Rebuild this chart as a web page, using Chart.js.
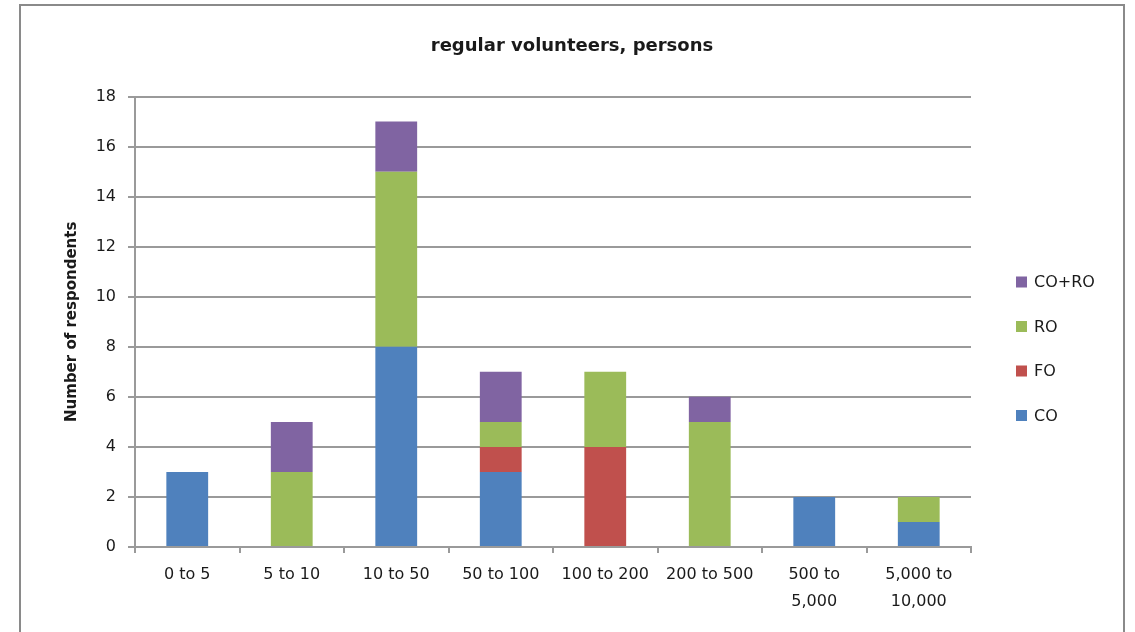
<!DOCTYPE html>
<html><head><meta charset="utf-8">
<script src="https://cdn.jsdelivr.net/npm/chart.js@4.4.1/dist/chart.umd.min.js"></script>
<style>html,body{margin:0;padding:0;background:#fff;overflow:hidden}#wrap{width:1135px;height:632px;position:relative}</style>
</head><body><div id="wrap"><canvas id="c" width="1135" height="632"></canvas></div>
<script>
const categories = ['0 to 5', '5 to 10', '10 to 50', '50 to 100', '100 to 200', '200 to 500', ['500 to', '5,000'], ['5,000 to', '10,000']];
const seriesNames = ['CO', 'FO', 'RO', 'CO+RO'];
const coValues = [3, 0, 8, 3, 0, 0, 2, 1];
const foValues = [0, 0, 0, 1, 4, 0, 0, 0];
const roValues = [0, 3, 7, 1, 3, 5, 0, 1];
const coRoValues = [0, 2, 2, 2, 0, 1, 0, 0];
const seriesColors = ['#4F81BD', '#C0504D', '#9BBB59', '#8064A2'];
const yMin = 0, yMax = 18, yStep = 2;
const chartTitle = 'regular volunteers, persons';
const yAxisTitle = 'Number of respondents';

const FONT = "'DejaVu Sans', sans-serif";
const GRID = '#9a9a9a';
const TEXT = '#1a1a1a';

const seriesValues = [coValues, foValues, roValues, coRoValues];
const datasets = seriesNames.map((n, i) => ({
  label: n,
  data: seriesValues[i],
  backgroundColor: seriesColors[i],
  borderWidth: 0,
  barPercentage: 0.4,
  categoryPercentage: 1.0,
  stack: 's'
}));

const framePlugin = {
  id: 'frame',
  beforeDraw(chart) {
    const ctx = chart.ctx;
    ctx.save();
    ctx.fillStyle = '#fff';
    ctx.fillRect(0, 0, chart.width, chart.height);
    ctx.strokeStyle = '#8a8a8a';
    ctx.lineWidth = 2;
    ctx.strokeRect(20, 5, 1104, 640);
    ctx.restore();
  },
  afterDraw(chart) {
    const ctx = chart.ctx;
    const ds = chart.data.datasets;
    ctx.save();
    ctx.font = '16px ' + FONT;
    ctx.textBaseline = 'middle';
    ctx.textAlign = 'left';
    const x0 = chart.chartArea.right + 45;
    let y = 282;
    for (let i = ds.length - 1; i >= 0; i--) {
      ctx.fillStyle = ds[i].backgroundColor;
      ctx.fillRect(x0, y - 5.5, 11, 11);
      ctx.fillStyle = TEXT;
      ctx.fillText(ds[i].label, x0 + 18, y + 1);
      y += 44.5;
    }
    ctx.restore();
  }
};

new Chart(document.getElementById('c'), {
  type: 'bar',
  data: { labels: categories, datasets },
  plugins: [framePlugin],
  options: {
    responsive: false,
    devicePixelRatio: 1,
    animation: false,
    layout: { padding: { left: 9, right: 0, top: 0, bottom: 0 } },
    plugins: {
      legend: { display: false },
      tooltip: { enabled: false },
      title: {
        display: true,
        text: chartTitle,
        color: TEXT,
        font: { family: FONT, size: 18, weight: 'bold', lineHeight: 1.2 },
        padding: { top: 36, bottom: 39 }
      }
    },
    scales: {
      x: {
        stacked: true,
        offset: true,
        grid: { display: true, drawOnChartArea: false, drawTicks: true, tickLength: 6, color: GRID, lineWidth: 2 },
        border: { display: true, color: GRID, width: 2 },
        ticks: { color: TEXT, font: { family: FONT, size: 16, lineHeight: 1.7 }, padding: 8, maxRotation: 0, autoSkip: false },
        afterFit(s) { s.height = 85; }
      },
      y: {
        stacked: true,
        min: yMin, max: yMax,
        ticks: { stepSize: yStep, color: TEXT, font: { family: FONT, size: 16 }, padding: 12 },
        grid: { color: GRID, lineWidth: 2, drawTicks: true, tickLength: 7 },
        border: { display: true, color: GRID, width: 2 },
        title: { display: true, text: yAxisTitle, color: TEXT, font: { family: FONT, size: 15, weight: 'bold', lineHeight: 1.2 }, padding: { top: 54, bottom: 0 } },
        afterFit(s) { s.width = 126; }
      },
      pad: {
        type: 'linear', position: 'right', display: true,
        ticks: { display: false }, grid: { display: false }, border: { display: false },
        afterFit(s) { s.width = 164; }
      }
    }
  }
});
</script></body></html>
